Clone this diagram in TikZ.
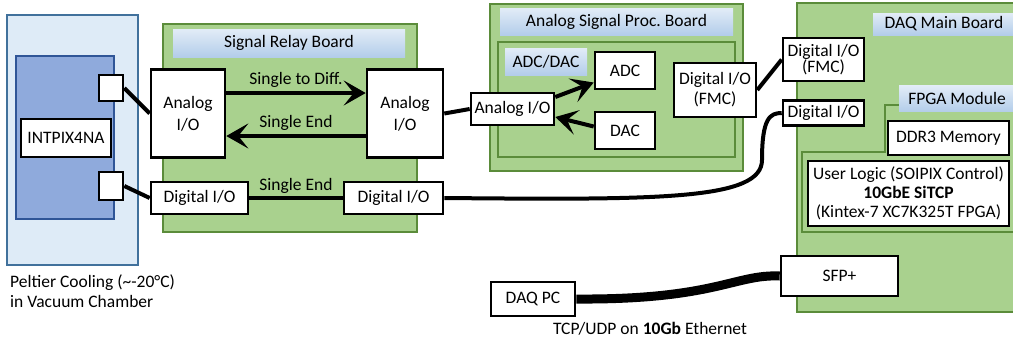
\documentclass[tikz,border=0pt]{standalone}
\usepackage{fontspec}
\setmainfont{Carlito}
\usetikzlibrary{arrows.meta,calc}
\definecolor{boardgreen}{HTML}{A9D18E}
\definecolor{boardedge} {HTML}{5B8C3A}
\definecolor{coolblue}  {HTML}{DEEBF7}
\definecolor{cooledge}  {HTML}{41719C}
\definecolor{chipblue}  {HTML}{8FAADC}
\definecolor{chipedge}  {HTML}{2F5597}
\definecolor{bartop}    {HTML}{E2ECF7}
\definecolor{barbottom} {HTML}{B3CDEA}

\begin{document}
\begin{tikzpicture}[
  x=1pt,y=-1pt,
  board/.style={draw=boardedge,fill=boardgreen,line width=2pt,inner sep=0pt},
  titlebar/.style={top color=bartop,bottom color=barbottom,inner sep=0pt,
                   font=\fontsize{17.5}{21}\selectfont},
  iobox/.style={draw,fill=white,line width=2.6pt,inner sep=0pt,align=center,
                font=\fontsize{17.5}{22}\selectfont},
  arr/.style={line width=4pt,-{Stealth[length=22pt,width=25pt,inset=10pt]}},
  wire/.style={line width=4pt},
  lbl/.style={font=\fontsize{17.5}{20}\selectfont,inner sep=1pt}
]
\useasboundingbox (0,0) rectangle (1013,341);
\clip (0,0) rectangle (1013,341);
% Cooling stage
\node[draw=cooledge,fill=coolblue,line width=2pt,minimum width=131pt,minimum height=250pt] (peltier) at (72.5,140) {};
\node[draw=chipedge,fill=chipblue,line width=2pt,minimum width=98pt,minimum height=163pt] (sensor) at (65,137.5) {};
\node[iobox,minimum width=90pt,minimum height=38pt] (intpix) at (66,138) {INTPIX4NA};
\node[iobox,minimum width=24pt,minimum height=26pt] (padA) at (111,88) {};
\node[iobox,minimum width=24pt,minimum height=28pt] (padD) at (111,186) {};
\node[lbl,anchor=north west,align=left,inner sep=0pt] (peltierlbl) at (10,274)
  {Peltier Cooling (\textasciitilde-20°C)\\in Vacuum Chamber};
% Signal relay board
\node[board,minimum width=254pt,minimum height=208pt] (relay) at (290,128) {};
\node[titlebar,minimum width=232pt,minimum height=28pt] (relaytitle) at (289,43) {Signal Relay Board};
\node[iobox,minimum width=74pt,minimum height=88pt] (aioL) at (188,113.5) {Analog\\I/O};
\node[iobox,minimum width=76pt,minimum height=88pt] (aioR) at (405,113.5) {Analog\\I/O};
\node[iobox,minimum width=97pt,minimum height=32pt] (dioL) at (199.5,198) {Digital I/O};
\node[iobox,minimum width=99pt,minimum height=32pt] (dioR) at (393.5,198) {Digital I/O};

\draw[arr] ([yshift=20.5pt]aioL.east) -- node[lbl,above=2pt] (s2d) {Single to Diff.} ([yshift=20.5pt]aioR.west);
\draw[arr] ([yshift=-22.5pt]aioR.west) -- node[lbl,above=2pt] (seA) {Single End} ([yshift=-22.5pt]aioL.east);
\draw[wire] (padA.east) -- (aioL.west);
\draw[wire] (padD.east) -- (dioL.west);
\draw[wire] (dioL) -- node[lbl,above=1pt] (seD) {Single End} (dioR);
% Analog signal proc. board
\node[board,minimum width=253pt,minimum height=167pt] (asp) at (616.5,87.5) {};
\node[titlebar,minimum width=233pt,minimum height=27pt] (asptitle) at (616.5,21.5) {Analog Signal Proc.\ Board};
\node[board,minimum width=237pt,minimum height=115pt] (adcdac) at (616.5,99.5) {};
\node[titlebar,minimum width=82pt,minimum height=27pt] (adcdactitle) at (546,61.5) {ADC/DAC};
\node[iobox,minimum width=60pt,minimum height=37pt] (adc) at (625,70.5) {ADC};
\node[iobox,minimum width=60pt,minimum height=37pt] (dac) at (625,130.5) {DAC};
\node[iobox,minimum width=83pt,minimum height=32pt] (aioM) at (512.5,109) {Analog I/O};
\node[iobox,minimum width=82pt,minimum height=54pt,font=\fontsize{17.5}{20}\selectfont] (dioFmcA) at (715,90) {Digital I/O\\(FMC)};

\draw[arr] ([yshift=12pt]aioM.east) -- ([yshift=-12pt]adc.west);
\draw[arr] ([yshift=4pt]dac.west) -- ([yshift=-8pt]aioM.east);
\draw[wire] (aioR.east) -- (aioM.west);
% DAQ main board
\node[board,minimum width=226pt,minimum height=309pt] (daq) at (910,157.5) {};
\node[titlebar,minimum width=142pt,minimum height=22pt] (daqtitle) at (944,24) {DAQ Main Board};
\node[iobox,minimum width=81pt,minimum height=43pt,font=\fontsize{17.5}{16}\selectfont] (dioFmcD) at (823.5,59.5) {Digital I/O\\(FMC)};
\node[iobox,minimum width=81pt,minimum height=25pt] (dioD) at (823.5,113) {Digital I/O};
\draw[board] (802,232) -- (802,152) -- (885,152) -- (885,105) -- (1020,105) -- (1020,232) -- cycle;
\node[titlebar,minimum width=116pt,minimum height=26pt] (fpgatitle) at (957,98.5) {FPGA Module};
\node[iobox,minimum width=121pt,minimum height=34pt] (ddr) at (948.5,138) {DDR3 Memory};
\node[iobox,minimum width=201pt,minimum height=65pt,font=\fontsize{17.5}{19}\selectfont] (logic) at (908.5,193.5)
  {User Logic (SOIPIX Control)\\\textbf{10GbE SiTCP}\\(Kintex-7 XC7K325T FPGA)};

\coordinate (bend) at (762,160);
\draw[wire] (dioR.east) .. controls (660,200) and (762,200) .. (bend)
            .. controls (762,118) and (770,113) .. (dioD.west);
\draw[wire] (dioFmcA.east) -- (dioFmcD.west);
% PC link
\node[iobox,minimum width=117pt,minimum height=40pt] (sfp) at (839.5,276) {SFP+};
\node[iobox,minimum width=84pt,minimum height=34pt] (pc) at (533,299) {DAQ PC};
\draw[line width=9pt] (pc.east) .. controls (715,300) and (735,274) .. (sfp.west);
\node[lbl] (ethlbl) at (650,329) {TCP/UDP on \textbf{10Gb} Ethernet};
\end{tikzpicture}
\end{document}
